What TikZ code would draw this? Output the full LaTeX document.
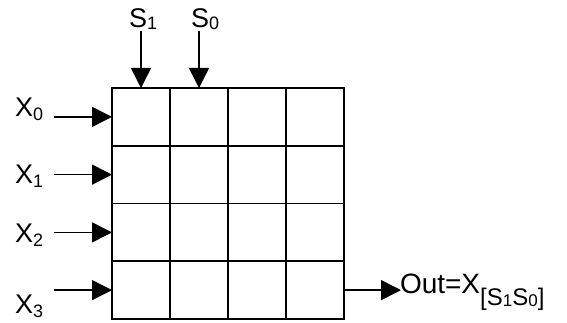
\documentclass[tikz,border=0pt]{standalone}
\usepackage{fontspec}
\setmainfont{Liberation Sans}
\usetikzlibrary{arrows.meta}
\newcommand\lsub[1]{\raisebox{-4pt}{\fontsize{18}{18}\selectfont #1}}
\newcommand\ssub[1]{\raisebox{-1.5pt}{\fontsize{18}{18}\selectfont #1}}
\begin{document}
\begin{tikzpicture}[x=1pt,y=-1pt,
  cell/.style={draw, line width=1.9pt, minimum width=58pt, minimum height=57.75pt, inner sep=0pt, outer sep=0pt},
  lab/.style={inner sep=0pt, outer sep=0pt, anchor=base west, font=\fontsize{27}{27}\selectfont},
  arr/.style={line width=1.5pt, -{Triangle[length=20pt,width=20pt]}}]
\useasboundingbox (0,0) rectangle (567,323);
\foreach \r in {1,...,4} {
  \foreach \c in {1,...,4} {
    \node[cell] (c\r\c) at ({112+58*(\c-0.5)}, {88+57.75*(\r-0.5)}) {};
  }
}
% select inputs
\node[lab] (s1) at (129,28) {S\ssub{1}};
\node[lab] (s0) at (191,28) {S\ssub{0}};
\coordinate (s1t) at (141,31);
\coordinate (s0t) at (199,31);
\draw[arr] (s1t) -- (c11.north);
\draw[arr] (s0t) -- (c12.north);
% data inputs
\node[lab] (x0) at (15,117) {X\lsub{0}};
\node[lab] (x1) at (15,184) {X\lsub{1}};
\node[lab] (x2) at (15,242) {X\lsub{2}};
\node[lab] (x3) at (15,313) {X\lsub{3}};
\coordinate (x0s) at (54,0 |- c11.west);
\coordinate (x1s) at (54,0 |- c21.west);
\coordinate (x2s) at (54,0 |- c31.west);
\coordinate (x3s) at (54,0 |- c41.west);
\draw[arr] (x0s) -- (c11.west);
\draw[arr] (x1s) -- (c21.west);
\draw[arr] (x2s) -- (c31.west);
\draw[arr] (x3s) -- (c41.west);
% output
\coordinate (oe) at (401,0 |- c44.east);
\draw[arr] (c44.east) -- (oe);
\node[lab, font=\fontsize{28}{28}\selectfont] (out) at (400,293) {Out=X\raisebox{-12pt}{\fontsize{24}{24}\selectfont [S\raisebox{-1pt}{\fontsize{17}{17}\selectfont 1}S\raisebox{-1pt}{\fontsize{17}{17}\selectfont 0}]}};
\end{tikzpicture}
\end{document}
